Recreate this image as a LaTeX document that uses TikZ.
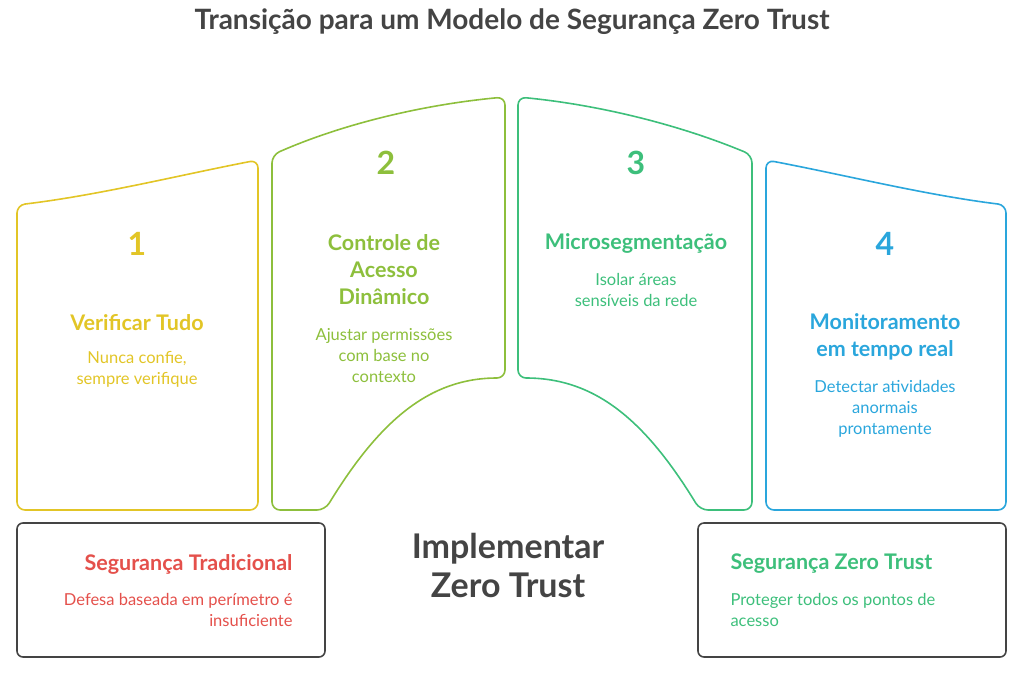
\documentclass[tikz,border=0pt]{standalone}
\usepackage{fontspec}
\setmainfont{Lato}
\definecolor{cy}{HTML}{E2C526}
\definecolor{cg}{HTML}{8DBF3C}
\definecolor{cgr}{HTML}{3DBF7B}
\definecolor{cb}{HTML}{2AA6DC}
\definecolor{cr}{HTML}{E4504B}
\definecolor{cd}{HTML}{444444}
\begin{document}
\begin{tikzpicture}[x=1pt,y=-1pt,
  shp/.style={line width=1.6pt,rounded corners=8pt},
  num/.style={font=\bfseries\fontsize{32}{36}\selectfont},
  ttl/.style={font=\bfseries\fontsize{21.5}{27}\selectfont,align=center},
  dsc/.style={font=\fontsize{16.5}{21}\selectfont,align=center}]
\useasboundingbox (0,0) rectangle (1024,673);
\node[font=\bfseries\fontsize{28}{32}\selectfont,text=cd] (title) at (512,22) {Transição para um Modelo de Segurança Zero Trust};
% shapes
\draw[shp,cy] (17,205) .. controls (100,195) and (180,175) .. (258,160) -- (258,510) -- (17,510) -- cycle;
\draw[shp,cg] (272,155) .. controls (340,125) and (420,105) .. (505,97) -- (505,378) .. controls (430,378) and (380,420) .. (325,510) -- (272,510) -- cycle;
\draw[shp,cgr] (518,97) .. controls (600,105) and (680,125) .. (752,155) -- (752,510) -- (700,510) .. controls (645,420) and (595,378) .. (518,378) -- cycle;
\draw[shp,cb] (766,160) .. controls (845,175) and (925,195) .. (1006,205) -- (1006,510) -- (766,510) -- cycle;
\draw[line width=1.6pt,cd,rounded corners=6pt] (17,523) rectangle (325,657);
\draw[line width=1.6pt,cd,rounded corners=6pt] (698,523) rectangle (1006,657);
% texts
\node[num,text=cy] (n1) at (137,244) {1};
\node[ttl,text=cy] (t1) at (137,323) {Verificar Tudo};
\node[dsc,text=cy] (d1) at (137,369) {Nunca confie,\\sempre verifique};
\node[num,text=cg] (n2) at (386,163) {2};
\node[ttl,text=cg] (t2) at (384,270) {Controle de\\Acesso\\Dinâmico};
\node[dsc,text=cg] (d2) at (384,356) {Ajustar permissões\\com base no\\contexto};
\node[num,text=cgr] (n3) at (636,163) {3};
\node[ttl,text=cgr] (t3) at (636,243) {Microsegmentação};
\node[dsc,text=cgr] (d3) at (636,290) {Isolar áreas\\sensíveis da rede};
\node[num,text=cb] (n4) at (885,244) {4};
\node[ttl,text=cb] (t4) at (885,337) {Monitoramento\\em tempo real};
\node[dsc,text=cb] (d4) at (885,409) {Detectar atividades\\anormais\\prontamente};
\node[font=\bfseries\fontsize{34}{39}\selectfont,text=cd,align=center] (imp) at (508,565) {Implementar\\Zero Trust};
\node[ttl,text=cr,anchor=east] (sl) at (296,564) {Segurança Tradicional};
\node[dsc,text=cr,align=right,anchor=east] (dl) at (296,610) {Defesa baseada em perímetro é\\insuficiente};
\node[ttl,text=cgr,anchor=west] (sr) at (727,564) {Segurança Zero Trust};
\node[dsc,text=cgr,align=left,anchor=west] (dr) at (727,610) {Proteger todos os pontos de\\acesso};
\end{tikzpicture}
\end{document}
